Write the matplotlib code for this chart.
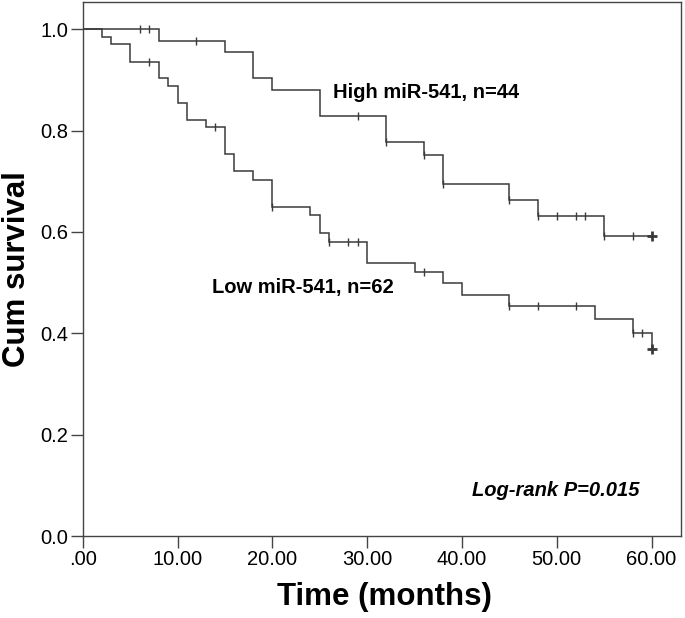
import numpy as np
import matplotlib
matplotlib.use("Agg")
import matplotlib.pyplot as plt

plt.rcParams['font.family'] = ['Liberation Sans', 'DejaVu Sans']

# ---- data ----
high_event_times = [8, 15, 18, 20, 25, 32, 36, 38, 45, 48, 55]
high_surv = [0.977, 0.954, 0.903, 0.880, 0.829, 0.778, 0.752, 0.694, 0.663, 0.631, 0.592]
high_censor_times = [6, 7, 12, 29, 32, 36, 38, 45, 48, 50, 52, 53, 55, 58]
high_end_time = 60

low_event_times = [2, 3, 5, 8, 9, 10, 11, 13, 15, 16, 18, 20, 24, 25, 26, 30, 35, 38, 40, 45, 54, 58, 60]
low_surv = [0.985, 0.970, 0.936, 0.903, 0.887, 0.854, 0.821, 0.806, 0.753, 0.720, 0.702, 0.650,
            0.634, 0.597, 0.580, 0.539, 0.520, 0.499, 0.476, 0.454, 0.428, 0.400, 0.369]
low_censor_times = [7, 14, 20, 26, 28, 29, 36, 45, 48, 52, 58, 59]
low_end_time = 60

x_ticks = [0, 10, 20, 30, 40, 50, 60]
x_tick_labels = ['.00', '10.00', '20.00', '30.00', '40.00', '50.00', '60.00']
y_ticks = [0.0, 0.2, 0.4, 0.6, 0.8, 1.0]
y_tick_labels = ['0.0', '0.2', '0.4', '0.6', '0.8', '1.0']

high_label = 'High miR-541, n=44'
low_label = 'Low miR-541, n=62'
p_label = 'Log-rank P=0.015'

LINE = '#3a3a3a'

fig = plt.figure(figsize=(6.85, 6.18), dpi=100)
ax = fig.add_axes([82.7 / 685, 1 - 536 / 618, (681 - 82.7) / 685, (536 - 2.3) / 618])


def level_at(times, surv, t):
    idx = np.searchsorted(np.asarray(times), t, side='right') - 1
    return 1.0 if idx < 0 else surv[idx]


def draw_curve(ev_t, surv, cens_t, end_t):
    xs = [0] + list(ev_t)
    ys = [1.0] + list(surv)
    if xs[-1] < end_t:
        xs.append(end_t)
        ys.append(ys[-1])
    ax.step(xs, ys, where='post', color=LINE, lw=1.1, solid_joinstyle='miter')
    cy = [level_at(ev_t, surv, t) for t in cens_t]
    ax.plot(cens_t, cy, ls='none', marker='|', ms=6, mew=1.0, color=LINE)
    ax.plot([end_t], [level_at(ev_t, surv, end_t)], ls='none', marker='+', ms=7, mew=2.0, color=LINE)


draw_curve(high_event_times, high_surv, high_censor_times, high_end_time)
draw_curve(low_event_times, low_surv, low_censor_times, low_end_time)

ax.set_xlim(0, 63.1)
ax.set_ylim(0, 1.053)
ax.set_xticks(x_ticks)
ax.set_xticklabels(x_tick_labels)
ax.set_yticks(y_ticks)
ax.set_yticklabels(y_tick_labels)
ax.tick_params(axis='both', direction='out', length=8.5, width=1.0, color='#444444',
               labelsize=14.5, labelcolor='black')
ax.tick_params(axis='x', pad=1.5)
ax.tick_params(axis='y', pad=2)
for sp in ax.spines.values():
    sp.set_color('#444444')
    sp.set_linewidth(1.0)

ax.text(26.4, 0.865, high_label, fontsize=14.5, fontweight='bold', ha='left', va='baseline')
ax.text(13.6, 0.479, low_label, fontsize=14.5, fontweight='bold', ha='left', va='baseline')
ax.text(49.9, 0.079, p_label, fontsize=14.5, fontweight='bold', fontstyle='italic',
        ha='center', va='baseline')

fig.text(17 / 685, 1 - 269 / 618, 'Cum survival', rotation=90, fontsize=22.5, fontweight='bold',
         ha='center', va='center')
fig.text(384.5 / 685, 1 - 597 / 618, 'Time (months)', fontsize=22.5, fontweight='bold',
         ha='center', va='center')

fig.savefig('out.png', dpi=100)
